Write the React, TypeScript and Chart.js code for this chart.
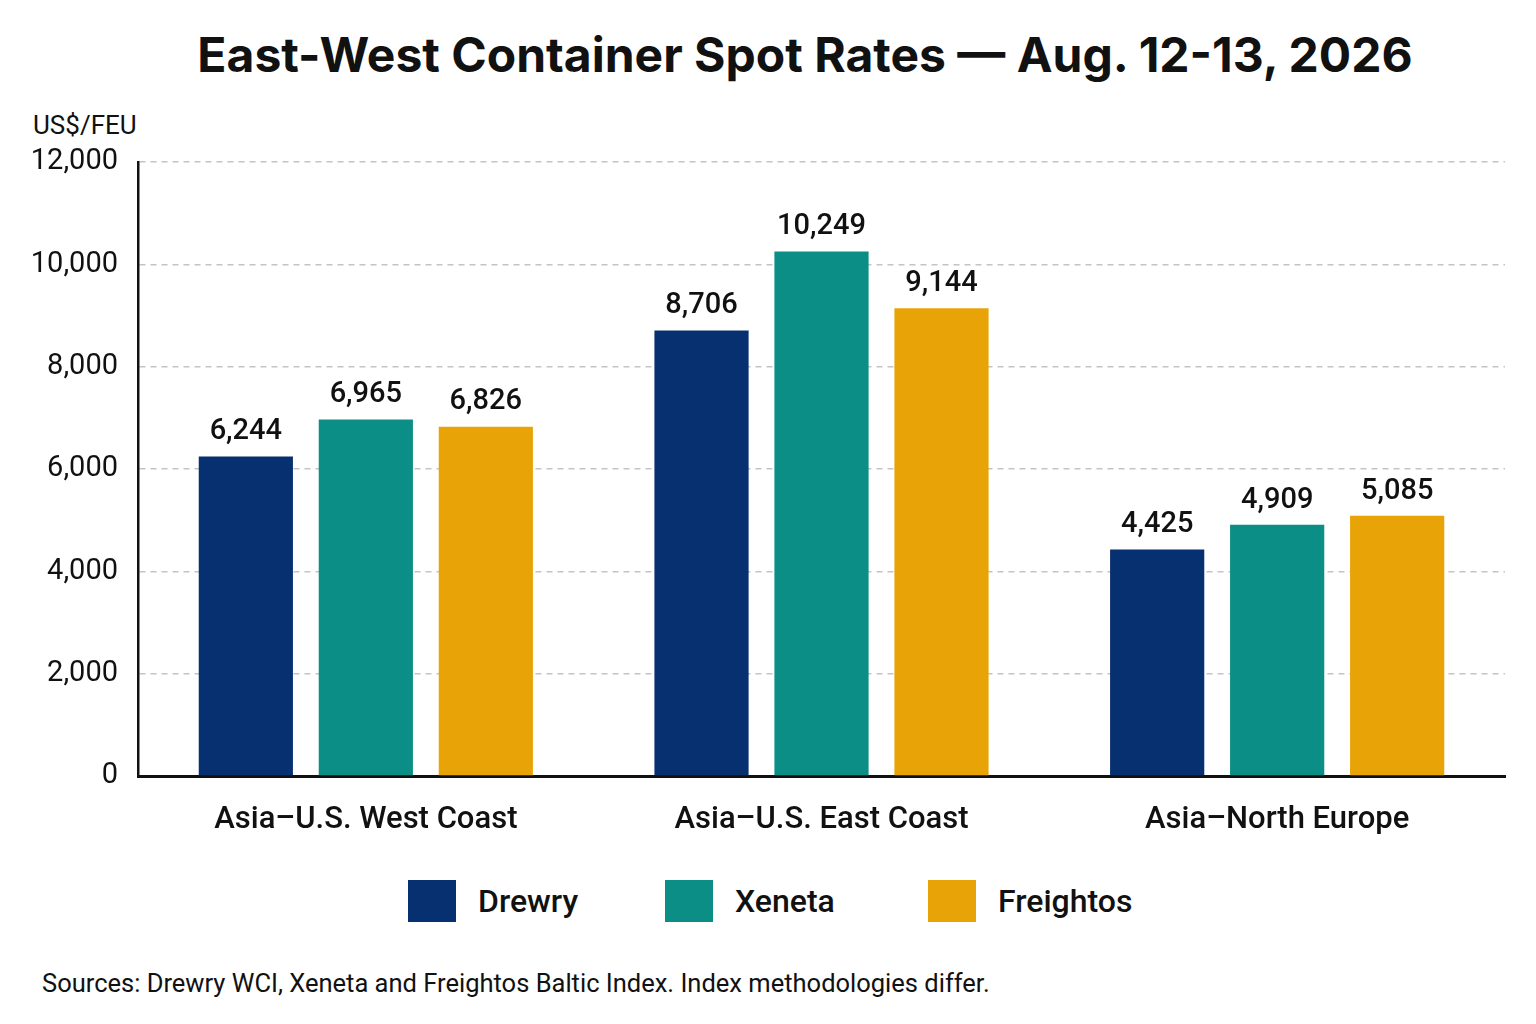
import { useRef, useEffect } from 'react'
import { Chart, registerables } from 'chart.js'

Chart.register(...registerables)

const routes = ['Asia–U.S. West Coast', 'Asia–U.S. East Coast', 'Asia–North Europe']
const drewry = [6244, 8706, 4425]
const xeneta = [6965, 10249, 4909]
const freightos = [6826, 9144, 5085]
const yTicks = [0, 2000, 4000, 6000, 8000, 10000, 12000]

const series = [
  { label: 'Drewry', data: drewry, color: '#06306f' },
  { label: 'Xeneta', data: xeneta, color: '#0b8e85' },
  { label: 'Freightos', data: freightos, color: '#e8a406' },
]

const FONT = 'Roboto, "Noto Sans", sans-serif'

const valueLabels = {
  id: 'valueLabels',
  afterDatasetsDraw(chart: Chart) {
    const ctx = chart.ctx
    ctx.save()
    ctx.fillStyle = '#111'
    ctx.font = `500 29px ${FONT}`
    ctx.textAlign = 'center'
    ctx.textBaseline = 'bottom'
    chart.data.datasets.forEach((ds, i) => {
      chart.getDatasetMeta(i).data.forEach((bar: any, j) => {
        const v = ds.data[j] as number
        ctx.fillText(v.toLocaleString('en-US'), bar.x, bar.y - 10)
      })
    })
    ctx.restore()
  },
}

export default function App() {
  const canvasRef = useRef<HTMLCanvasElement>(null)
  const chartRef = useRef<Chart | null>(null)

  useEffect(() => {
    document.body.style.margin = '0'
    if (!canvasRef.current) return
    if (chartRef.current) chartRef.current.destroy()

    chartRef.current = new Chart(canvasRef.current, {
      type: 'bar',
      data: {
        labels: routes,
        datasets: series.map(s => ({
          label: s.label,
          data: s.data,
          backgroundColor: s.color,
          categoryPercentage: 0.79,
          barPercentage: 0.785,
        })),
      },
      options: {
        responsive: true,
        maintainAspectRatio: false,
        animation: false,
        layout: { padding: { top: 162, left: 20, right: 31, bottom: 0 } },
        plugins: {
          legend: { display: false },
          tooltip: { enabled: false },
          title: { display: false },
        },
        scales: {
          x: {
            grid: { display: false },
            border: { display: true, color: '#111', width: 3 },
            ticks: { color: '#111', font: { family: FONT, size: 31, weight: 500 }, padding: 18 },
            afterFit: (s: any) => { s.height = 74 },
          },
          y: {
            min: 0,
            max: 12000,
            afterBuildTicks: (s: any) => { s.ticks = yTicks.map(v => ({ value: v })) },
            afterFit: (s: any) => { s.width = 118 },
            grid: {
              color: (c: any) => (c.tick && c.tick.value === 0 ? 'rgba(0,0,0,0)' : '#c4c4c4'),
              lineWidth: 1.5,
              drawTicks: false,
            },
            border: { display: true, color: '#111', width: 2.5, dash: [6, 5] as any },
            ticks: {
              color: '#111',
              font: { family: FONT, size: 29 },
              padding: 20,
              callback: (v: any) => Number(v).toLocaleString('en-US'),
            },
          },
        },
      },
      plugins: [valueLabels],
    })

    return () => { chartRef.current?.destroy() }
  }, [])

  return (
    <div style={{ position: 'relative', width: 1536, height: 1024, background: '#fff', fontFamily: FONT, color: '#111' }}>
      <div style={{ position: 'absolute', top: 24, left: 0, width: 1610, textAlign: 'center', fontFamily: 'Inter, Roboto, sans-serif', fontWeight: 700, fontSize: 48, lineHeight: '62px' }}>
        East-West Container Spot Rates — Aug. 12-13, 2026
      </div>
      <div style={{ position: 'absolute', top: 110, left: 33, fontSize: 26, lineHeight: '30px' }}>US$/FEU</div>
      <div style={{ position: 'absolute', left: 0, top: 0, width: 1536, height: 850 }}>
        <canvas ref={canvasRef} />
      </div>
      {series.map((s, i) => (
        <div key={s.label} style={{ position: 'absolute', top: 880, left: [408, 665, 928][i], display: 'flex', alignItems: 'center' }}>
          <span style={{ width: 48, height: 42, background: s.color, display: 'inline-block' }} />
          <span style={{ marginLeft: 22, fontSize: 32, fontWeight: 500 }}>{s.label}</span>
        </div>
      ))}
      <div style={{ position: 'absolute', top: 967, left: 42, fontSize: 25.5, lineHeight: '32px' }}>
        Sources: Drewry WCI, Xeneta and Freightos Baltic Index. Index methodologies differ.
      </div>
    </div>
  )
}
